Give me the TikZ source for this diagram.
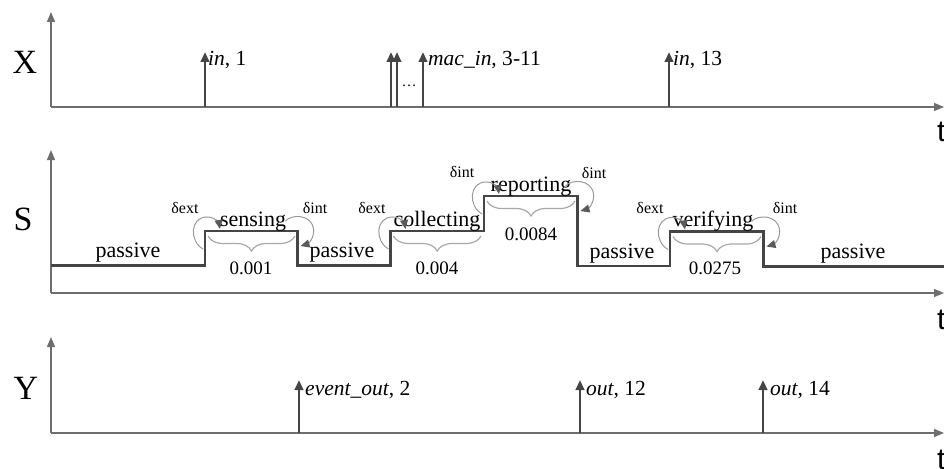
\documentclass[tikz,border=0pt]{standalone}
\usepackage{fontspec}
\setmainfont{Liberation Serif}
\newfontfamily\axisfont{Liberation Sans}
\usetikzlibrary{arrows.meta,decorations.pathreplacing}

\definecolor{axisgray}{HTML}{6E6E6E}
\definecolor{darkline}{HTML}{454545}
\definecolor{loopgray}{HTML}{9A9A9A}
\definecolor{tipgray}{HTML}{5A5A5A}
\definecolor{bracegray}{HTML}{A8A8A8}

\tikzset{
  axisline/.style={draw=axisgray, line width=1.3pt, -{Triangle[length=10pt,width=8pt]}},
  impulse/.style={draw=darkline, line width=2.4pt, -{Triangle[length=10pt,width=8.5pt]}},
  stateline/.style={draw=darkline, line width=2.6pt, line join=miter},
  loopline/.style={draw=loopgray, line width=1pt, -{Triangle[length=9pt,width=8pt,color=tipgray]}},
  bracestyle/.style={draw=bracegray, line width=1.2pt, decorate,
    decoration={brace, mirror, amplitude=15pt}},
  biglabel/.style={inner sep=0pt, font=\fontsize{34}{38}\selectfont},
  tlabel/.style={inner sep=0pt, anchor=base west, font=\axisfont\fontsize{30}{34}\selectfont},
  evlabel/.style={inner sep=0pt, anchor=base west, font=\fontsize{21.5}{24}\selectfont},
  statelabel/.style={inner sep=0pt, anchor=base, font=\fontsize{22}{26}\selectfont},
  durlabel/.style={inner sep=0pt, font=\fontsize{19}{22}\selectfont},
  deltalabel/.style={inner sep=0pt, anchor=base, font=\fontsize{16}{18}\selectfont},
  loopbefore/.pic={\draw[loopline] (-2,18) .. controls (-16,10) and (-15,-14) .. (2,-14)
      .. controls (10,-14) and (14,-8) .. (15,-2);},
  loopafter/.pic={\draw[loopline] (-12,-10) .. controls (-6,-17) and (14,-17) .. (16,-2)
      .. controls (17,8) and (10,13) .. (3,15);},
}

\begin{document}
\begin{tikzpicture}[x=1pt,y=-1pt]
\useasboundingbox (0,0) rectangle (944,468);

% ---------------- input trajectory X ----------------
\coordinate (xo) at (51,107);
\coordinate (xtop) at (51,12);
\coordinate (xend) at (944,107);
\draw[axisline] (xo) -- (xtop);
\draw[axisline] (xo) -- (xend);
\node[biglabel] (xlab) at (25,62) {X};
\node[tlabel] (xt) at (937,141) {t};

\coordinate (x1b) at (205,107);   \coordinate (x1t) at (205,52);
\coordinate (x2b) at (391,107);   \coordinate (x2t) at (391,52);
\coordinate (x3b) at (397,107);   \coordinate (x3t) at (397,52);
\coordinate (x4b) at (423,107);   \coordinate (x4t) at (423,52);
\coordinate (x5b) at (669,107);   \coordinate (x5t) at (669,52);
\draw[impulse] (x1b) -- (x1t);
\draw[impulse] (x2b) -- (x2t);
\draw[impulse] (x3b) -- (x3t);
\draw[impulse] (x4b) -- (x4t);
\draw[impulse] (x5b) -- (x5t);
\node[evlabel] (in1) at (208,66) {\textit{in}, 1};
\node[inner sep=0pt, font=\fontsize{15}{18}\selectfont] (xdots) at (409,86) {…};
\node[evlabel] (macin) at (428,66) {\textit{mac\_in}, 3-11};
\node[evlabel] (in13) at (673,66) {\textit{in}, 13};

% ---------------- state trajectory S ----------------
\coordinate (so) at (51,293);
\coordinate (stop) at (51,150);
\coordinate (send) at (944,293);
\draw[axisline] (so) -- (stop);
\draw[axisline] (so) -- (send);
\node[biglabel] (slab) at (23,219) {S};
\node[tlabel] (st) at (937,329) {t};

% corners of the state line
\coordinate (r1) at (205,231);   \coordinate (f1) at (297.5,231);
\coordinate (r2) at (390.5,231); \coordinate (r3) at (484,196);
\coordinate (f3) at (577.5,196);
\coordinate (r4) at (670,231.5); \coordinate (f4) at (763.5,231.5);

\draw[stateline] (51,265.5) -- (205,265.5) -- (r1) -- (f1) -- (297.5,265.5)
  -- (390.5,265.5) -- (r2) -- (484,231) -- (r3) -- (f3) -- (577.5,266)
  -- (670,266) -- (r4) -- (f4) -- (763.5,266.5) -- (944,266.5);

% state names
\node[statelabel] (pas1) at (128,257) {passive};
\node[statelabel] (sens) at (253,226) {sensing};
\node[statelabel] (pas2) at (342,257.5) {passive};
\node[statelabel] (coll) at (437,226) {collecting};
\node[statelabel] (rep)  at (531,191) {reporting};
\node[statelabel] (pas3) at (622,258) {passive};
\node[statelabel] (veri) at (713,226.5) {verifying};
\node[statelabel] (pas4) at (853,258.5) {passive};

% durations
\draw[bracestyle] (208,236) -- (295,236);
\draw[bracestyle] (393.5,236) -- (481,236);
\draw[bracestyle] (487,201) -- (575,201);
\draw[bracestyle] (673,236.5) -- (761,236.5);
\node[durlabel] (d1) at (251,268) {0.001};
\node[durlabel] (d2) at (437,268) {0.004};
\node[durlabel] (d3) at (531,234) {0.0084};
\node[durlabel] (d4) at (715,268.5) {0.0275};

% transitions
\pic at (r1) {loopbefore};
\pic at (f1) {loopafter};
\pic at (r2) {loopbefore};
\pic at (r3) {loopbefore};
\pic at (f3) {loopafter};
\pic at (r4) {loopbefore};
\pic at (f4) {loopafter};
\node[deltalabel] (e1) at (185,213) {δext};
\node[deltalabel] (i1) at (315,213) {δint};
\node[deltalabel] (e2) at (372,213) {δext};
\node[deltalabel] (i2) at (462,177) {δint};
\node[deltalabel] (i3) at (594,178) {δint};
\node[deltalabel] (e3) at (650,213.5) {δext};
\node[deltalabel] (i4) at (785,213.5) {δint};

% ---------------- output trajectory Y ----------------
\coordinate (yo) at (51,433);
\coordinate (ytop) at (51,337);
\coordinate (yend) at (944,433);
\draw[axisline] (yo) -- (ytop);
\draw[axisline] (yo) -- (yend);
\node[biglabel] (ylab) at (26,388) {Y};
\node[tlabel] (yt) at (937,469) {t};

\coordinate (y1b) at (299,433);  \coordinate (y1t) at (299,380);
\coordinate (y2b) at (580,433);  \coordinate (y2t) at (580,380);
\coordinate (y3b) at (763,433);  \coordinate (y3t) at (763,380);
\draw[impulse] (y1b) -- (y1t);
\draw[impulse] (y2b) -- (y2t);
\draw[impulse] (y3b) -- (y3t);
\node[evlabel] (evout) at (305,395) {\textit{event\_out}, 2};
\node[evlabel] (out12) at (586,395) {\textit{out}, 12};
\node[evlabel] (out14) at (770,395) {\textit{out}, 14};
\end{tikzpicture}
\end{document}
